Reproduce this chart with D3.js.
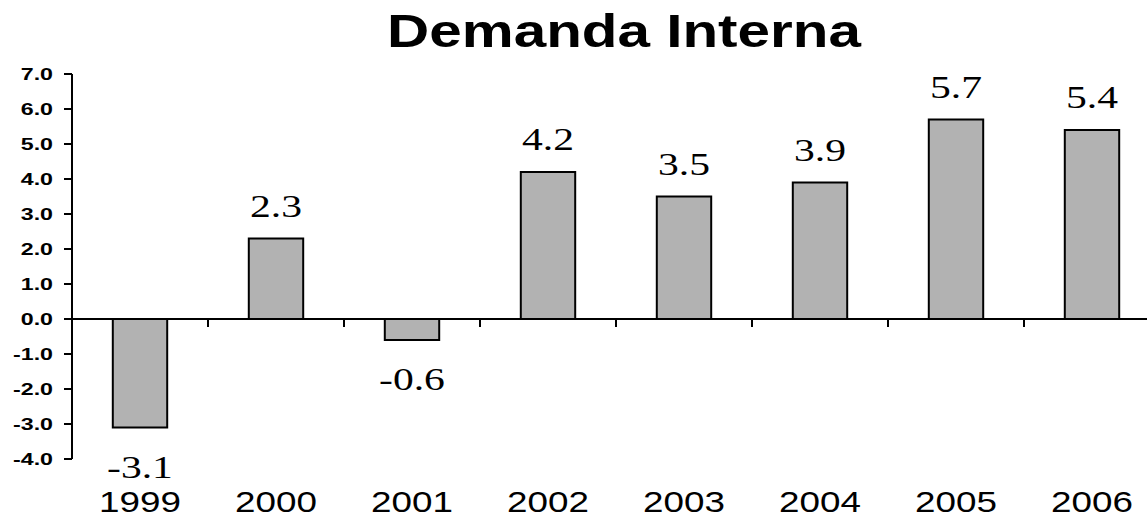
<!DOCTYPE html>
<html>
<head>
<meta charset="utf-8">
<script src="https://cdn.jsdelivr.net/npm/d3@7"></script>
<style>
  html, body { margin: 0; padding: 0; background: #fff; }
  svg { display: block; }
</style>
</head>
<body>
<svg id="chart" width="1147" height="519"></svg>
<script>
const title = "Demanda Interna";
const categories = ["1999", "2000", "2001", "2002", "2003", "2004", "2005", "2006"];
const values = [-3.1, 2.3, -0.6, 4.2, 3.5, 3.9, 5.7, 5.4];
const yTicks = [7, 6, 5, 4, 3, 2, 1, 0, -1, -2, -3, -4];

const svg = d3.select("#chart");
const W = 1147, H = 519;
const sx = 1.27; // horizontal stretch of text in the reference
const fmt = v => d3.format(".1f")(v).replace("\u2212", "-");

const x = d3.scaleBand().domain(categories).range([72, 1160]).paddingInner(0.6).paddingOuter(0.3);
const y = d3.scaleLinear().domain([-4, 7]).range([459, 74]);

// Title
svg.append("text")
  .attr("transform", `translate(624,47) scale(${sx},1)`)
  .attr("text-anchor", "middle")
  .attr("font-family", "Liberation Sans, Arial, sans-serif")
  .attr("font-weight", "bold")
  .attr("font-size", 46)
  .attr("fill", "#000")
  .text(title);

// Bars
svg.append("g").selectAll("rect")
  .data(values)
  .join("rect")
  .attr("x", (d, i) => x(categories[i]))
  .attr("width", x.bandwidth())
  .attr("y", d => y(Math.max(0, d)))
  .attr("height", d => Math.abs(y(d) - y(0)))
  .attr("fill", "#b2b2b2")
  .attr("stroke", "#000")
  .attr("stroke-width", 2);

// Y axis
const yAxis = svg.append("g");
yAxis.append("line")
  .attr("x1", 72).attr("x2", 72)
  .attr("y1", y(7)).attr("y2", y(-4))
  .attr("stroke", "#000").attr("stroke-width", 2);
yAxis.selectAll("line.tick")
  .data(yTicks)
  .join("line")
  .attr("class", "tick")
  .attr("x1", 64).attr("x2", 72)
  .attr("y1", d => y(d)).attr("y2", d => y(d))
  .attr("stroke", "#000").attr("stroke-width", 2);
yAxis.selectAll("text")
  .data(yTicks)
  .join("text")
  .attr("transform", d => `translate(53,${y(d) + 5.5}) scale(1.45,1)`)
  .attr("text-anchor", "end")
  .attr("font-family", "Liberation Sans, Arial, sans-serif")
  .attr("font-weight", "bold")
  .attr("font-size", 16)
  .attr("fill", "#000")
  .text(d => fmt(d));

// Zero line (category axis)
svg.append("line")
  .attr("x1", 72).attr("x2", W)
  .attr("y1", y(0)).attr("y2", y(0))
  .attr("stroke", "#000").attr("stroke-width", 2);
const step = x.step();
svg.append("g").selectAll("line")
  .data(categories.slice(1))
  .join("line")
  .attr("x1", d => x(d) + x.bandwidth() / 2 - step / 2)
  .attr("x2", d => x(d) + x.bandwidth() / 2 - step / 2)
  .attr("y1", y(0)).attr("y2", y(0) + 8)
  .attr("stroke", "#000").attr("stroke-width", 2);

// Category labels
svg.append("g").selectAll("text")
  .data(categories)
  .join("text")
  .attr("transform", d => `translate(${x(d) + x.bandwidth() / 2},512) scale(${sx},1)`)
  .attr("text-anchor", "middle")
  .attr("font-family", "Liberation Sans, Arial, sans-serif")
  .attr("font-size", 29)
  .attr("fill", "#000")
  .text(d => d);

// Value labels
svg.append("g").selectAll("text")
  .data(values)
  .join("text")
  .attr("transform", (d, i) => {
    const cx = x(categories[i]) + x.bandwidth() / 2;
    const ty = d >= 0 ? y(d) - 22 : y(d) + 50;
    return `translate(${cx},${ty}) scale(1.3,1)`;
  })
  .attr("text-anchor", "middle")
  .attr("font-family", "Liberation Serif, Times New Roman, serif")
  .attr("font-size", 32)
  .attr("fill", "#000")
  .text(d => fmt(d));
</script>
</body>
</html>
